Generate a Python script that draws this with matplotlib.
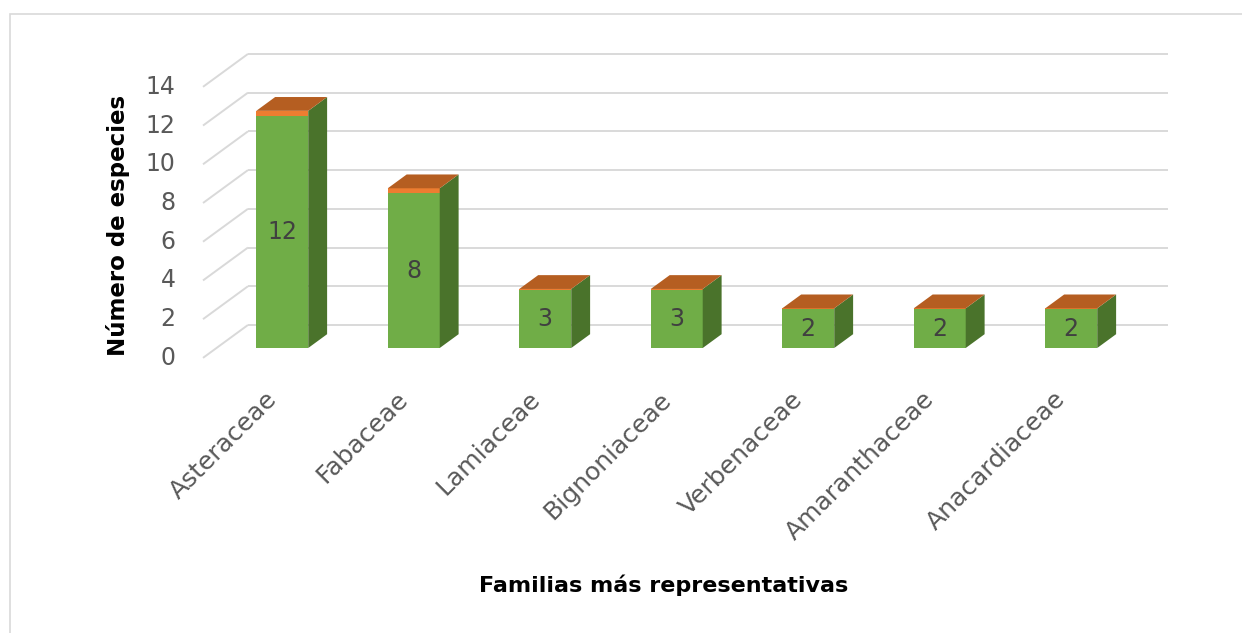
import numpy as np
import matplotlib.pyplot as plt
from matplotlib.patches import Polygon, Rectangle

# data
familias = ['Asteraceae', 'Fabaceae', 'Lamiaceae', 'Bignoniaceae',
            'Verbenaceae', 'Amaranthaceae', 'Anacardiaceae']
especies = [12, 8, 3, 3, 2, 2, 2]
# thin orange cap sitting on each column (second series in the original)
cap = [0.25, 0.25, 0.05, 0.05, 0.05, 0.05, 0.05]
yticks = [0, 2, 4, 6, 8, 10, 12, 14]

# colours
green = '#70AD47'
green_dark = '#4A732B'
orange = '#ED7D31'
orange_top = '#B55E21'
grid_c = '#D9D9D9'
txt_gray = '#595959'

W, H = 1242, 633
fig = plt.figure(figsize=(W / 100, H / 100), dpi=100)
ax = fig.add_axes([0, 0, 1, 1])
ax.set_xlim(-2.1464, 7.2985)
ax.set_ylim(-14.72, 17.975)
ax.axis('off')

# fake 3d geometry (in data units)
depth_x, depth_y = 0.342, 1.70      # full floor depth
front_f, bar_f = 0.30, 0.42          # bar front position / bar depth as fraction
bw = 0.395
fx, fy = -front_f * depth_x, -front_f * depth_y
bx, by = (1 - front_f) * depth_x, (1 - front_f) * depth_y
sdx, sdy = bar_f * depth_x, bar_f * depth_y
n = len(familias)

# gridlines: diagonal on the left wall + horizontal on the back wall
for v in yticks:
    ax.plot([-0.5 + fx, -0.5 + bx], [v + fy, v + by], color=grid_c, lw=1.4,
            solid_capstyle='butt', zorder=1)
    ax.plot([-0.5 + bx, n - 0.5 + bx], [v + by, v + by], color=grid_c, lw=1.4,
            solid_capstyle='butt', zorder=1)
    ax.text(-0.5 + fx - 0.21, v + fy, str(v), ha='right', va='center',
            fontsize=17, color=txt_gray)

# columns
for i, (val, c) in enumerate(zip(especies, cap)):
    l, r = i - bw / 2, i + bw / 2
    top = val + c
    ax.add_patch(Rectangle((l, 0), bw, val, fc=green, ec='none', zorder=3))
    ax.add_patch(Rectangle((l, val), bw, c, fc=orange, ec='none', zorder=3))
    ax.add_patch(Polygon([(r, 0), (r + sdx, sdy), (r + sdx, top + sdy), (r, top)],
                         closed=True, fc=green_dark, ec='none', zorder=3))
    ax.add_patch(Polygon([(l, top), (r, top), (r + sdx, top + sdy), (l + sdx, top + sdy)],
                         closed=True, fc=orange_top, ec='none', zorder=3))
    ax.text(i, val / 2, str(val), ha='center', va='center', fontsize=17,
            color='#404040', zorder=4)
    ax.text(i - 0.07, fy - 1.95, familias[i], rotation=45, rotation_mode='anchor',
            ha='right', va='center', fontsize=18, color=txt_gray)

# axis titles
fig.text(118 / W, 1 - 225 / H, 'Número de especies', rotation=90, ha='center',
         va='center', fontsize=16.5, fontweight='bold', color='black')
fig.text(664 / W, 1 - 585 / H, 'Familias más representativas', ha='center',
         va='center', fontsize=16, fontweight='bold', color='black')

# chart area border
fig.patches.append(Rectangle((10 / W, -0.1), 1.2, 1 - 14 / H + 0.1,
                             transform=fig.transFigure, fill=False,
                             ec='#D9D9D9', lw=1.2))

fig.savefig('out.png', dpi=100, facecolor='white')
